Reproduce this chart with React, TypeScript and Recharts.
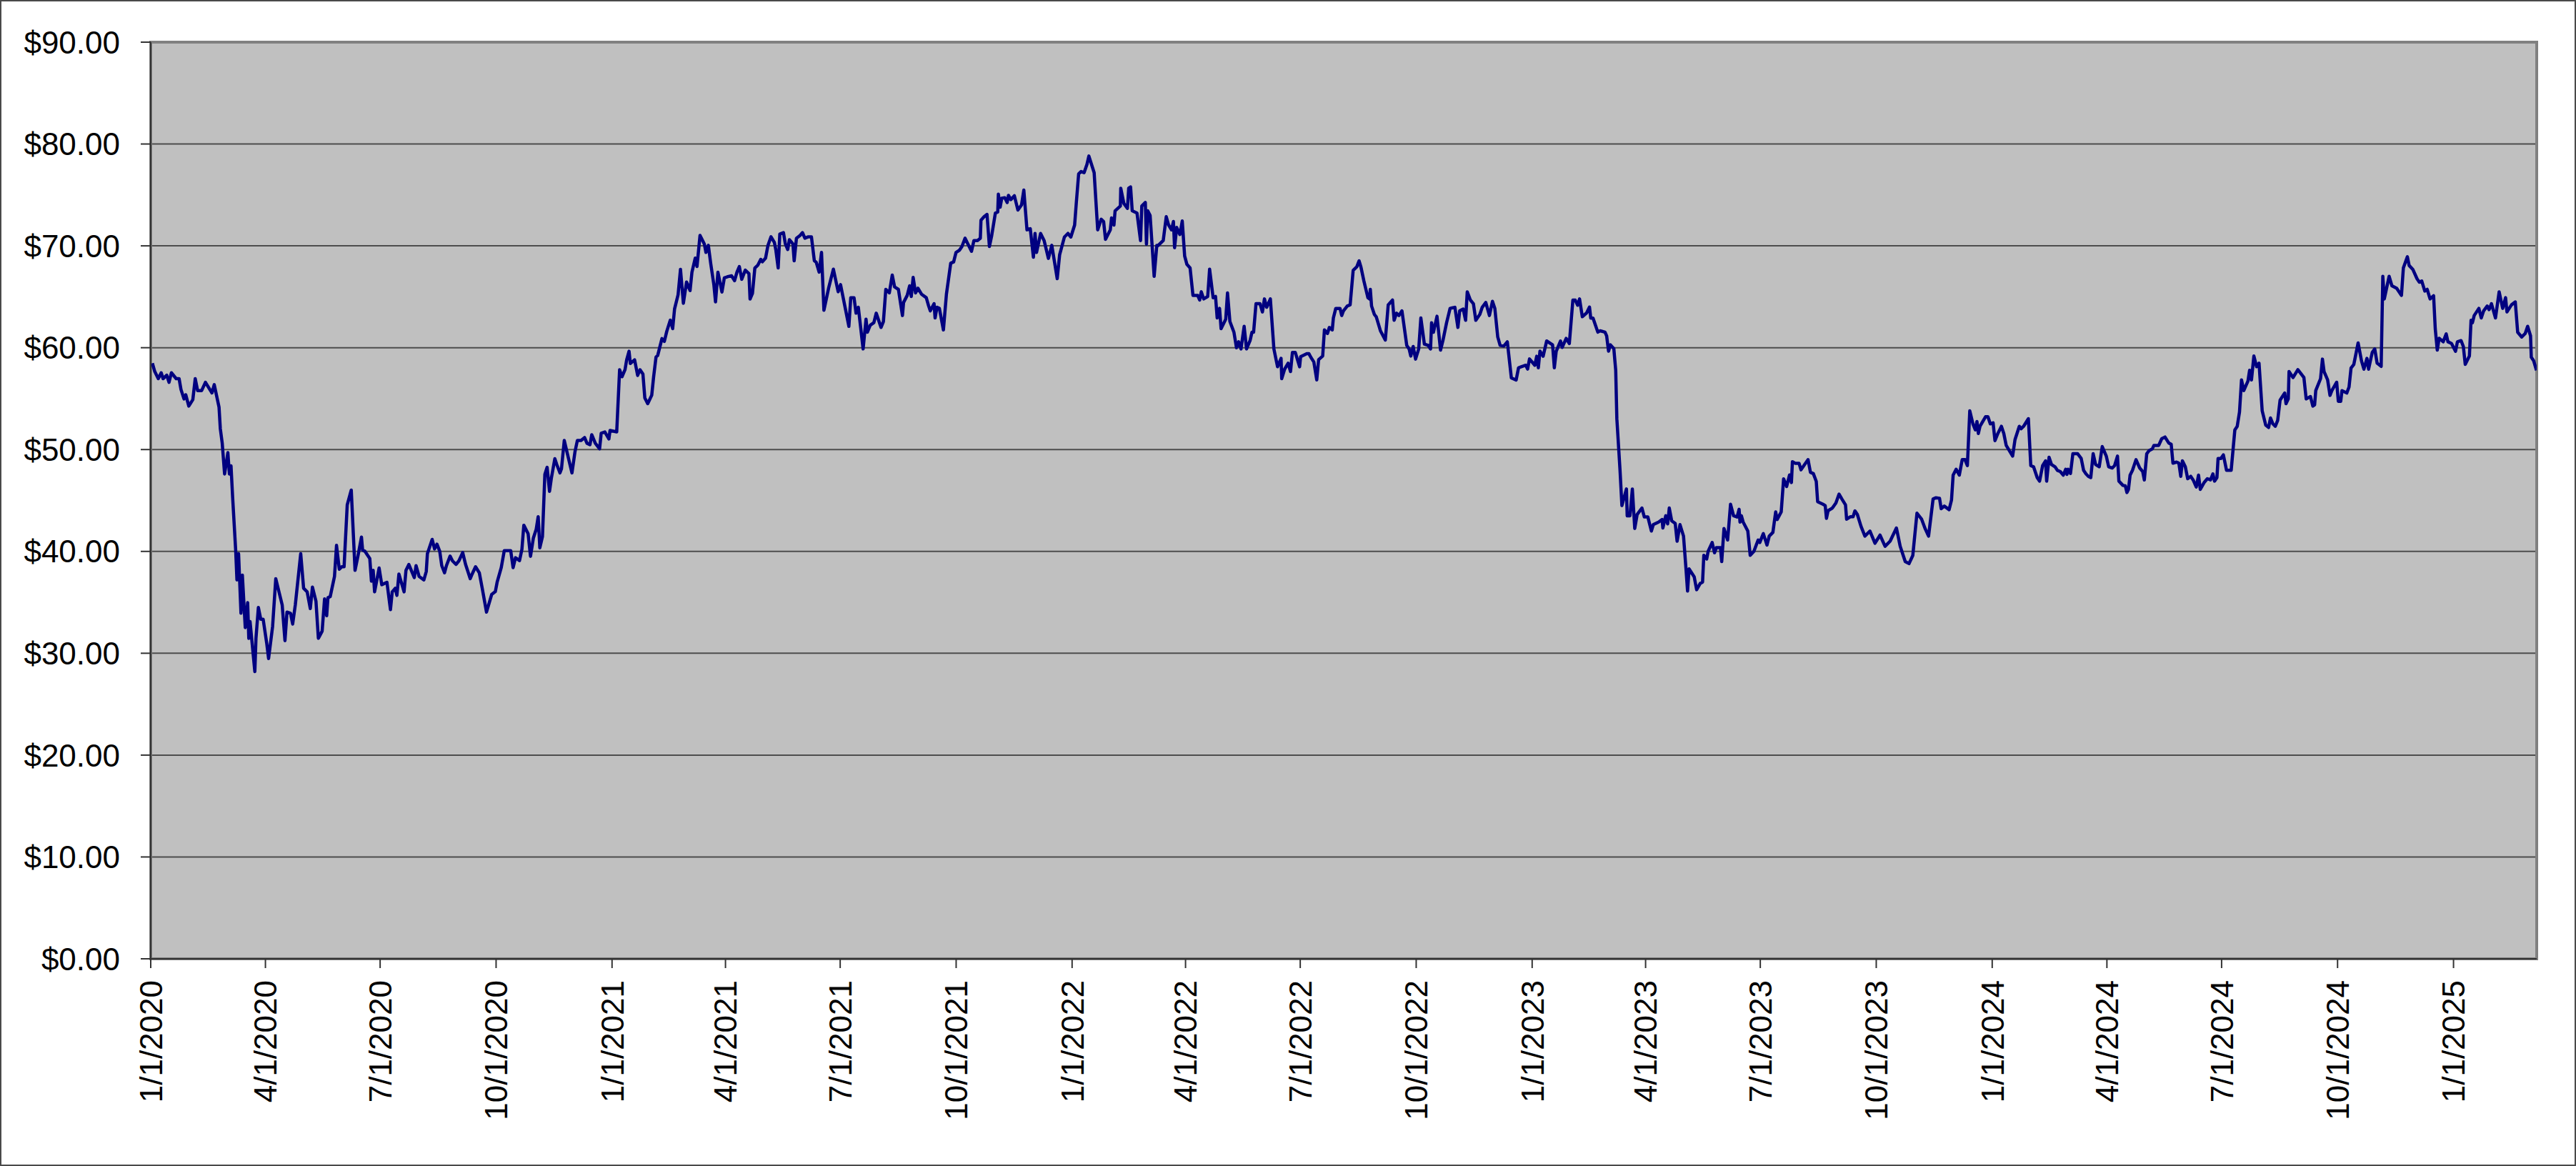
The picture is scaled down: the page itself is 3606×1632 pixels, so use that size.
import React from "react";
import { LineChart, Line, XAxis, YAxis, CartesianGrid, ReferenceArea } from "recharts";

// x values: days since 1/1/2020; y values: price in $
const days = [
  1.3, 3.2, 6.0, 8.3, 9.8, 12.7, 14.5, 16.4, 20.2, 22.5, 24.0, 26.4, 27.8, 30.2, 33.4, 35.3, 37.2, 40.4, 43.4, 48.6,
  50.4, 54.2, 55.2, 56.7, 58.6, 61.2, 62.4, 63.7, 65.0, 67.4, 68.4, 69.7, 71.6, 72.7, 75.0, 76.9, 77.8, 78.8, 82.6, 83.5,
  85.4, 87.3, 89.2, 92.0, 93.5, 96.7, 99.2, 104.3, 106.5, 108.1, 110.9, 112.6, 114.7, 119.0, 121.3, 124.1, 126.6, 128.3, 131.1, 133.0,
  136.0, 137.9, 139.6, 140.6, 142.4, 145.8, 147.4, 149.6, 151.5, 153.4, 155.9, 159.1, 162.1, 164.4, 167.2, 168.1, 170.0, 173.8, 175.1, 176.5,
  177.6, 181.2, 183.3, 187.4, 190.2, 191.6, 194.0, 195.3, 196.9, 201.0, 202.5, 204.8, 209.1, 210.5, 212.9, 216.7, 218.6, 219.5, 223.3, 225.2,
  227.1, 229.3, 230.9, 233.1, 234.6, 237.5, 239.4, 242.2, 244.5, 247.5, 249.8, 253.5, 255.0, 257.7, 260.7, 263.0, 266.4,
  270.5, 273.4, 274.9, 278.1, 280.5, 283.7, 285.6, 287.5, 289.4, 292.6, 294.5, 296.0, 299.4, 301.3, 303.6, 305.8, 307.4, 308.7, 310.8, 312.7,
  314.5, 316.4, 317.8, 320.6, 322.1, 324.7, 325.9, 328.1, 331.5, 334.2, 336.6, 338.5, 341.4, 344.2, 346.1, 348.5, 349.9, 352.7, 356.1, 357.4,
  360.3, 363.5, 364.4, 369.7, 372.0, 373.9, 376.3, 377.6, 379.5, 380.5, 383.9, 386.3, 388.2, 390.5, 392.0, 394.3, 397.5, 399.0, 400.9, 402.2,
  405.6, 407.5, 409.4, 412.2, 414.1, 415.6, 418.4, 420.3, 422.6, 425.1, 427.9, 429.4, 432.0, 433.4, 435.8, 439.2, 440.5, 442.4, 444.3, 446.8,
  448.1, 450.0, 453.2, 455.1, 458.5, 460.8, 463.2, 465.1, 467.0, 468.9, 471.7, 474.6, 475.5, 477.4, 479.3, 481.7, 484.0, 485.3, 487.8, 489.7,
  492.1, 494.8, 495.9, 497.8, 499.1, 502.0, 503.5, 505.4, 506.7, 509.5, 510.5, 512.3, 515.2, 517.1, 519.0, 521.8, 524.2, 526.5, 528.0, 530.3,
  532.2, 534.1,
  537.8, 541.6, 545.4, 547.3, 553.9, 555.4, 558.0, 559.6, 561.4, 565.2, 567.5, 568.6, 570.9, 573.7, 575.6, 579.4, 581.3, 583.2, 586.0, 588.3,
  590.2, 593.2, 596.4, 597.3, 600.2, 602.1, 603.4, 604.9, 606.8, 608.7, 611.5, 615.3, 617.2, 618.5, 621.5, 622.3, 623.8, 625.7, 628.9, 631.3,
  634.7, 637.0, 638.9, 641.7, 643.6, 646.1, 648.4, 651.2, 653.1, 655.9, 658.2, 658.7, 661.2, 663.5, 665.4, 667.2, 670.1, 672.0, 672.5, 673.9,
  675.2, 677.6, 679.5, 680.5, 682.4, 685.2, 688.0, 690.9, 692.7, 695.2, 697.8, 700.3, 701.6, 702.8, 706.0, 708.8, 712.2, 714.9, 719.2, 721.1,
  724.9, 727.7, 730.0, 733.0, 734.3, 736.2, 738.1, 740.5, 742.8, 744.3, 748.5, 751.3, 754.1, 756.0, 757.5, 761.3, 762.3, 764.2, 765.1, 769.3,
  769.6, 772.1, 774.9, 775.9, 777.4, 778.7, 782.5, 785.3, 786.3, 789.1, 790.0, 791.0, 792.9, 796.1, 798.2, 799.1, 803.3,
  805.7, 807.6, 809.9, 811.4, 812.3, 814.0, 816.5, 818.4, 820.3, 822.1, 824.6, 826.9, 830.6, 832.2, 833.5, 835.4, 838.6, 840.1, 842.9, 844.8,
  846.1, 848.0, 849.2, 852.9, 854.3, 856.2, 859.4, 861.4, 863.1, 865.0, 867.5, 869.4, 872.2, 873.7, 875.0, 876.9, 880.1, 882.0, 883.6, 885.4,
  888.3, 891.1, 894.0, 896.8, 897.3, 899.6, 902.4, 904.3, 905.8, 908.1, 911.5, 912.3, 917.2, 918.9, 920.4, 922.8, 925.1, 926.6, 929.8, 931.2,
  933.6, 935.1, 937.4, 938.3, 940.2, 943.6, 944.9, 946.3, 949.3, 951.6, 954.0, 956.9, 958.7, 960.1, 962.5, 965.7, 967.0, 967.6, 968.6, 970.8,
  972.3, 975.7, 979.5, 981.8, 985.2, 986.5, 988.4, 990.3, 992.7, 996.5, 998.4, 999.7, 1001.6, 1003.5, 1006.0, 1007.7, 1010.5, 1013.5, 1015.4, 1016.2,
  1017.7, 1020.5, 1023.3, 1025.2, 1028.1, 1030.9, 1034.7, 1037.1, 1038.5, 1041.3, 1043.2, 1044.5, 1047.0, 1049.4, 1051.3, 1054.5, 1056.4, 1059.2, 1062.1, 1064.5,
  1066.4, 1068.7, 1070.6,
  1073.5, 1076.3, 1079.5, 1083.3, 1085.2, 1087.7, 1090.9, 1092.4, 1093.9, 1098.1, 1099.6, 1100.9, 1102.2, 1104.7, 1107.5, 1112.2, 1113.6, 1115.1, 1118.5, 1119.8,
  1123.0, 1125.5, 1128.3, 1130.2, 1132.1, 1133.6, 1135.8, 1139.2, 1141.5, 1142.5, 1144.3, 1148.1, 1150.0, 1153.8, 1155.1, 1156.6, 1158.1, 1160.8, 1162.3, 1163.2,
  1165.7, 1167.2, 1168.9, 1170.8, 1171.4, 1173.6, 1175.5, 1177.4, 1179.3, 1183.1, 1185.0, 1187.8, 1190.6, 1192.1, 1196.3, 1199.1, 1199.7, 1202.0, 1203.5, 1204.8,
  1206.7, 1209.5, 1211.0, 1213.3, 1216.1, 1218.0, 1219.3, 1220.5, 1224.6, 1226.5, 1229.4, 1231.2, 1232.2, 1234.5, 1235.6, 1238.8, 1240.7, 1242.2, 1245.4, 1246.4,
  1248.2, 1251.1, 1253.4, 1255.8, 1258.6, 1260.2, 1260.9, 1262.0, 1263.4, 1267.1, 1269.0, 1271.9, 1275.3, 1276.6, 1279.4, 1282.3, 1284.1, 1287.0, 1289.2, 1290.4,
  1293.6, 1295.5, 1297.9, 1300.2, 1301.7, 1302.5, 1304.9, 1307.8, 1309.3, 1314.9, 1316.8, 1319.1, 1321.4, 1322.5, 1326.7, 1328.5, 1329.5, 1330.8, 1334.2, 1337.0,
  1339.5, 1341.8,
  1344.6, 1345.5, 1348.4, 1350.6, 1352.1, 1354.0, 1356.9, 1360.0, 1364.0, 1368.0, 1372.0, 1376.0, 1380.0, 1385.0, 1388.0, 1392.0, 1395.0, 1398.0, 1401.3, 1405.0,
  1407.9, 1410.5, 1414.1, 1416.4, 1419.2, 1420.5, 1423.0, 1426.8, 1428.7, 1430.0, 1432.4, 1434.9, 1437.2, 1439.4, 1441.3, 1443.2, 1445.7, 1447.6, 1448.9, 1450.0,
  1451.3, 1455.7, 1457.6, 1459.5, 1461.7, 1463.2, 1465.5, 1468.3, 1470.2, 1472.1, 1477.2, 1479.1, 1482.5, 1484.0, 1485.9, 1489.7, 1491.6, 1493.8, 1496.7, 1498.6,
  1501.0, 1503.3, 1504.2, 1506.1, 1508.0, 1510.8, 1512.7, 1515.0, 1517.4, 1519.3, 1520.3, 1521.2, 1523.1, 1525.0, 1528.8, 1531.6, 1533.5, 1535.4, 1537.3, 1539.2,
  1541.1, 1543.0, 1545.9, 1548.3, 1551.5, 1553.4, 1556.2, 1558.1, 1560.4, 1561.5, 1564.7, 1566.6, 1567.9, 1569.1, 1570.4, 1572.3, 1575.1, 1578.0, 1580.4, 1581.7,
  1583.6, 1585.5, 1588.0, 1589.3, 1593.1, 1595.5, 1598.1, 1601.1, 1603.0, 1604.4, 1607.2, 1609.1, 1610.6,
  1611.9, 1614.2, 1616.1, 1618.5, 1620.4, 1622.9, 1624.7, 1626.1, 1629.3, 1631.7, 1634.2, 1636.1, 1637.4, 1639.3, 1640.2, 1642.5, 1644.4, 1646.9, 1650.6, 1653.5,
  1655.4, 1657.2, 1658.8, 1660.6, 1663.9, 1665.2, 1666.7, 1668.6, 1670.8, 1672.7, 1675.2, 1678.0, 1680.3, 1681.8, 1683.7, 1685.6, 1687.5, 1689.4, 1693.1, 1694.1,
  1695.9, 1696.5, 1699.7, 1703.5, 1708.3, 1710.1, 1713.5, 1715.4, 1716.8, 1717.7, 1721.5, 1723.0, 1724.3, 1727.1, 1729.0, 1730.5, 1734.3, 1735.6, 1737.5, 1738.5,
  1742.3, 1744.1, 1745.7, 1747.9, 1751.3, 1754.0, 1755.9, 1758.3, 1759.6, 1762.5, 1764.5, 1766.4, 1769.6, 1770.9, 1772.1, 1775.9, 1778.1, 1781.9, 1785.7, 1787.2,
  1790.4, 1791.8, 1794.8, 1798.0, 1799.9, 1801.8, 1804.2, 1806.1, 1808.4, 1811.2, 1812.5, 1814.1, 1815.6, 1818.8, 1821.2, 1822.6, 1825.4, 1828.6, 1830.1, 1833.0,
  1834.8, 1836.3, 1839.6, 1840.9, 1842.0, 1843.4, 1847.1, 1849.0, 1850.9, 1853.7, 1855.2, 1857.1, 1860.3, 1863.2, 1866.0, 1868.3, 1869.4, 1873.0, 1876.0, 1877.9,
  1881.1, 1883.9, 1885.8, 1888.1, 1888.7, 1890.6, 1892.8,
];

const prices = [
  58.48, 57.66, 56.96, 57.54, 56.96, 57.3, 56.6, 57.54, 56.96, 56.96, 55.9, 54.97, 55.37, 54.27, 54.9, 56.96, 55.79, 55.79, 56.6, 55.56,
  56.37, 54.15, 52.05, 50.65, 47.6, 49.7, 47.6, 48.4, 45.27, 40.1, 37.2, 39.77, 33.93, 37.67, 32.52, 34.97, 31.47, 33.11, 28.2, 31.47,
  34.5, 33.34, 33.34, 31.0, 29.48, 32.64, 37.32, 34.74, 31.24, 34.04, 33.93, 32.87, 34.74, 39.77, 36.38, 36.03, 34.39, 36.5, 35.1, 31.47,
  32.17, 35.33, 33.69, 35.45, 35.56, 37.55, 40.59, 38.25, 38.49, 38.49, 44.57, 46.02, 38.14, 39.54, 41.41, 40.12, 40.01, 39.3, 37.08, 38.14,
  36.03, 38.37, 36.73, 36.97, 34.28, 36.03, 36.38, 35.68, 37.78, 36.03, 38.14, 38.72, 37.43, 38.6, 37.55, 37.2, 38.02, 39.77, 41.18, 40.24,
  40.71, 40.01, 38.6, 37.9, 38.6, 39.54, 39.07, 38.72, 39.07, 39.89, 38.72, 37.32, 37.78, 38.49, 37.9, 36.38, 34.04,
  35.77, 36.05, 37.02, 38.41, 40.08, 40.08, 40.08, 38.41, 39.38, 39.1, 40.21, 42.57, 41.74, 39.52, 41.32, 42.16, 43.41, 40.35, 41.46, 47.57,
  48.26, 45.9, 47.15, 49.1, 48.54, 47.71, 48.13, 50.9, 49.1, 47.71, 49.79, 50.9, 50.9, 51.18, 50.62, 50.48, 51.46, 50.62, 50.07, 51.6,
  51.73, 51.04, 51.87, 51.73, 57.84, 57.15, 57.84, 58.81, 59.65, 58.45, 58.81, 57.28, 57.84, 57.42, 55.07, 54.51, 55.34, 57.15, 59.09, 59.23,
  60.9, 60.62, 61.6, 62.7, 61.87, 63.81, 65.2, 67.7, 64.36, 66.45, 65.61, 67.42, 68.8, 67.97, 71.03, 70.19, 69.36, 70.05, 68.25, 66.17,
  64.5, 67.42, 65.47, 66.86, 67.0, 67.06, 66.58, 67.42, 67.97, 66.72, 67.61, 67.28, 64.78, 65.33, 67.83, 68.11, 68.67, 68.44, 68.8, 70.05,
  70.89, 70.33, 69.64, 67.83, 71.16, 71.3, 70.19, 69.64, 70.61, 70.19, 68.53, 70.75, 71.03, 71.3, 70.75, 70.89, 70.89, 68.53, 68.39, 67.42,
  69.36, 63.67,
  65.84, 67.71, 65.49, 66.19, 62.1, 64.91, 64.91, 63.39, 63.97, 59.88, 62.8, 61.52, 62.22, 62.45, 63.39, 61.99, 62.57, 65.73, 65.38, 67.13,
  65.96, 65.73, 63.16, 64.44, 65.14, 66.08, 65.03, 66.9, 65.38, 65.84, 65.26, 64.91, 64.09, 63.62, 64.32, 62.92, 63.97, 63.86, 61.75, 65.26,
  68.3, 68.42, 69.35, 69.58, 69.94, 70.75, 70.17, 69.47, 70.52, 70.52, 70.75, 72.51, 72.86, 73.09, 69.94, 70.99, 73.21, 73.33, 75.08, 73.79,
  74.68, 74.73, 74.26, 74.96, 74.54, 74.92, 73.51, 74.03, 75.48, 71.57, 71.69, 68.88, 71.22, 69.35, 71.22, 70.52, 68.77, 70.05, 66.78, 69.12,
  70.87, 71.22, 70.87, 72.04, 74.15, 77.07, 77.3, 77.18, 78.0, 78.82, 77.18, 71.57, 72.62, 72.39, 70.64, 71.57, 72.74, 72.04, 73.44, 73.91,
  75.66, 74.15, 73.68, 75.66, 75.78, 73.44, 73.21, 70.52, 73.91, 74.26, 70.17, 73.44, 72.98, 67.01, 70.05, 70.01, 70.52,
  72.86, 72.04, 71.57, 72.39, 69.82, 71.81, 71.11, 72.44, 69.0, 68.18, 67.83, 65.14, 65.14, 64.68, 65.49, 64.79, 65.03, 67.71, 64.91, 65.03,
  62.92, 63.86, 61.87, 62.8, 65.38, 62.57, 61.52, 60.0, 60.58, 59.88, 62.1, 59.88, 60.7, 61.52, 61.52, 64.32, 64.32, 63.51, 64.79, 63.97,
  64.79, 59.88, 58.13, 58.95, 56.96, 57.89, 58.48, 57.66, 59.53, 59.53, 58.13, 59.11, 59.41, 59.41, 59.06, 58.6, 56.84, 58.83, 59.18, 61.75,
  61.4, 61.99, 61.75, 62.92, 63.86, 63.86, 63.16, 63.62, 64.09, 64.21, 67.6, 67.95, 68.53, 67.95, 66.55, 64.91, 64.79, 65.73, 64.09, 63.27,
  63.04, 61.64, 60.75, 64.21, 64.68, 62.69, 63.39, 63.16, 63.62, 60.23, 59.88, 59.18, 60.12, 58.88, 59.88, 62.92, 60.35, 60.23, 59.88, 62.45,
  61.52, 63.09, 59.76, 60.7, 62.45, 63.86, 63.97, 61.99, 63.62, 63.79, 62.69, 65.49, 64.68, 64.32, 62.69, 63.27, 63.97, 64.44, 63.16, 64.56,
  63.86, 61.05, 60.23,
  60.16, 60.58, 57.03, 56.83, 58.03, 58.15, 58.28, 57.9, 58.9, 58.28, 59.16, 58.03, 59.66, 59.16, 60.66, 60.28, 58.03, 59.66, 60.66, 60.03,
  60.91, 60.41, 64.67, 64.67, 64.17, 64.79, 63.04, 63.41, 63.99, 62.91, 62.91, 61.53, 61.66, 61.53, 61.16, 59.66, 60.28, 59.91, 57.78, 53.02,
  48.01, 44.5, 45.26, 46.13, 43.5, 43.5, 46.13, 42.25, 43.63, 44.26, 43.38, 43.38, 42.0, 42.63, 42.88, 43.13, 42.3, 43.5, 42.7, 44.26,
  43.0, 42.75, 41.0, 42.63, 41.5, 38.37, 36.11, 38.29, 37.49, 36.24, 36.87, 36.99, 39.62, 39.25, 40.0, 40.87, 39.87, 40.37, 40.37, 39.0,
  42.25, 41.12, 44.63, 43.5, 43.38, 44.13, 42.88, 43.5, 42.88, 42.0, 39.62, 40.0, 41.12, 40.87, 41.75, 40.62, 41.5, 41.87, 43.88, 43.13,
  43.88, 47.13, 46.38, 47.51, 46.76, 48.81, 48.64, 48.64, 48.01, 49.01, 47.76, 47.64, 46.88, 44.88, 44.63, 44.5, 43.25, 44.0, 44.26, 44.76,
  45.63, 45.13,
  44.57, 43.16, 43.4, 43.4, 43.98, 43.63, 42.46, 41.5, 42.0, 40.8, 41.6, 40.5, 41.0, 42.3, 40.5, 39.0, 38.8, 39.6, 43.75, 43.16,
  42.2, 41.5, 45.15, 45.27, 45.22, 44.2, 44.45, 44.1, 45.03, 47.49, 48.07, 47.49, 49.01, 49.01, 48.42, 53.8, 52.52, 51.93, 52.75, 51.58,
  52.28, 53.22, 53.22, 52.52, 52.63, 50.88, 51.58, 52.28, 51.58, 50.41, 49.36, 50.98, 52.28, 52.05, 52.28, 53.03, 48.42, 48.31, 47.25, 46.9,
  48.42, 48.89, 46.9, 49.24, 48.54, 48.31, 47.96, 47.84, 47.49, 48.07, 47.56, 48.07, 47.65, 49.59, 49.59, 49.13, 47.96, 47.61, 47.37, 47.25,
  49.59, 48.54, 48.31, 50.29, 49.36, 48.31, 48.19, 48.42, 49.36, 46.9, 46.48, 46.44, 45.78, 46.09, 47.49, 47.96, 49.01, 48.19, 47.84, 47.02,
  49.59, 49.9, 50.06, 50.41, 50.41, 51.07, 51.23, 50.64, 50.53, 48.66, 48.77, 48.66, 47.37,
  48.89, 48.31, 47.14, 47.37, 47.02, 46.32, 47.49, 46.09, 46.79, 47.14, 47.02, 47.61, 46.9, 47.25, 49.13, 49.13, 49.48, 47.96, 47.96, 51.93,
  52.28, 53.69, 56.84, 55.79, 56.72, 57.78, 56.84, 59.18, 58.13, 58.48, 53.8, 52.4, 52.17, 53.1, 52.52, 52.28, 52.87, 54.85, 55.55, 54.5,
  54.97, 57.66, 57.07, 57.85, 57.07, 54.97, 55.2, 54.27, 54.39, 55.79, 56.96, 58.88, 57.66, 56.84, 55.32, 55.79, 56.61, 54.74, 54.74, 55.79,
  55.55, 56.14, 58.01, 58.36, 60.47, 58.71, 57.89, 58.95, 57.89, 59.53, 59.88, 58.48, 58.17, 67.01, 64.79, 67.01, 66.08, 65.84, 65.14, 67.83,
  68.93, 68.07, 67.67, 66.78, 66.43, 66.55, 65.56, 65.73, 64.79, 65.1, 61.87, 59.76, 60.93, 60.58, 61.35, 60.58, 60.42, 59.65, 60.58, 60.7,
  60.12, 58.36, 59.18, 62.69, 62.45, 63.16, 63.86, 62.92, 63.62, 64.09, 63.74, 64.32, 62.92, 65.49, 63.86, 64.91, 63.51, 64.21, 64.49, 61.52,
  61.05, 61.4, 62.1, 61.17, 59.06, 58.71, 57.78,
];

const xTickDays = [0, 91, 182, 274, 366, 456, 547, 639, 731, 821, 912, 1004, 1096, 1186, 1277, 1369, 1461, 1552, 1643, 1735, 1827];
const xTickLabels = [
  "1/1/2020", "4/1/2020", "7/1/2020", "10/1/2020",
  "1/1/2021", "4/1/2021", "7/1/2021", "10/1/2021",
  "1/1/2022", "4/1/2022", "7/1/2022", "10/1/2022",
  "1/1/2023", "4/1/2023", "7/1/2023", "10/1/2023",
  "1/1/2024", "4/1/2024", "7/1/2024", "10/1/2024",
  "1/1/2025",
];
const yTicks = [0, 10, 20, 30, 40, 50, 60, 70, 80, 90];
const X_MAX_DAY = 1893;

const data = days.map((d, i) => ({ day: d, price: prices[i] }));

const FONT = "'Liberation Sans', Arial, Helvetica, sans-serif";

const XTick = (props: any) => {
  const { x, y, payload } = props;
  const idx = xTickDays.indexOf(payload.value);
  const label = idx >= 0 ? xTickLabels[idx] : "";
  return (
    <text
      x={x}
      y={y}
      transform={`rotate(-90 ${x} ${y})`}
      textAnchor="end"
      dy="0.36em"
      fontSize={44}
      fontFamily={FONT}
      fill="#000"
    >
      {label}
    </text>
  );
};

export default function App() {
  return (
    <div
      style={{
        width: 3606,
        height: 1632,
        boxSizing: "border-box",
        border: "2px solid #4a4a4a",
        background: "#ffffff",
        overflow: "hidden",
      }}
    >
      <style>{"body{margin:0;}"}</style>
      <LineChart
        width={3602}
        height={1628}
        data={data}
        margin={{ top: 57, right: 53, left: 0, bottom: 0 }}
      >
        <CartesianGrid vertical={false} fill="#C0C0C0" stroke="#4d4d4d" strokeWidth={2} fillOpacity={1} />
        <ReferenceArea
          x1={0}
          x2={X_MAX_DAY}
          y1={0}
          y2={90}
          fill="none"
          stroke="#808080"
          strokeWidth={4}
          ifOverflow="visible"
        />
        <XAxis
          dataKey="day"
          type="number"
          domain={[0, X_MAX_DAY]}
          ticks={xTickDays}
          interval={0}
          allowDataOverflow
          height={288}
          tickSize={13}
          tickMargin={17}
          tick={<XTick />}
          tickLine={{ stroke: "#333", strokeWidth: 2 }}
          axisLine={{ stroke: "#333", strokeWidth: 2 }}
        />
        <YAxis
          type="number"
          domain={[0, 90]}
          ticks={yTicks}
          interval={0}
          width={209}
          tickSize={14}
          tickMargin={29}
          tickFormatter={(v: number) => `$${v.toFixed(2)}`}
          tick={{ fontSize: 44, fill: "#000", fontFamily: FONT }}
          tickLine={{ stroke: "#333", strokeWidth: 2 }}
          axisLine={{ stroke: "#333", strokeWidth: 2 }}
        />
        <Line
          type="linear"
          dataKey="price"
          stroke="#000080"
          strokeWidth={4.5}
          dot={false}
          isAnimationActive={false}
          strokeLinejoin="round"
        />
      </LineChart>
    </div>
  );
}
